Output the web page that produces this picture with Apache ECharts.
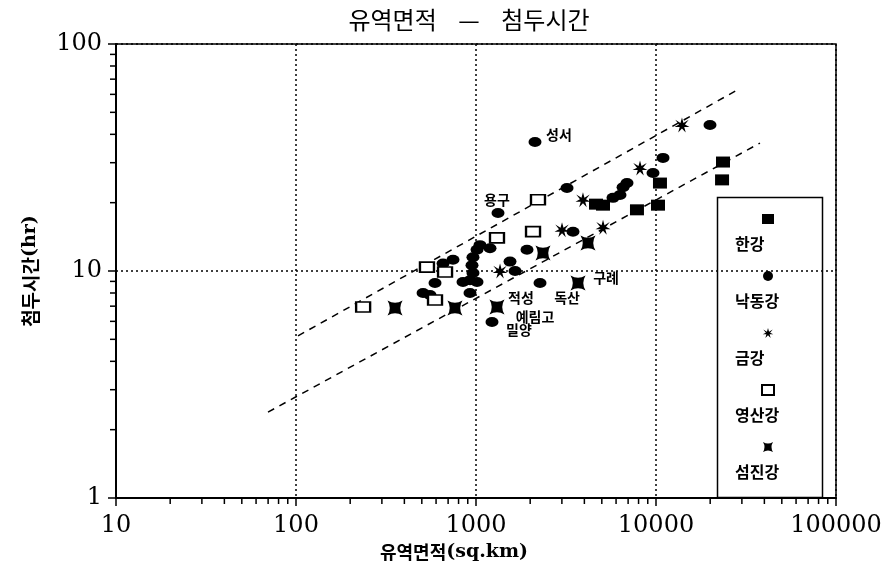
<!DOCTYPE html>
<html><head><meta charset="utf-8">
<script src="https://cdn.jsdelivr.net/npm/echarts@6/dist/echarts.min.js"></script>
<style>html,body{margin:0;padding:0;background:#fff}#c{width:884px;height:563px}</style>
</head><body><div id="c"></div>
<script>
const seriesNames = ['한강','낙동강','금강','영산강','섬진강'];
const xTickLabels = ['10','100','1000','10000','100000'];
const yTickLabels = ['1','10','100'];
// 한강
const hanArea = [23280, 23560, 10520, 10257, 7839, 5078, 4642];
const hanPeak = [25.2, 30.2, 24.4, 19.5, 18.6, 19.5, 19.7];
// 낙동강
const nakArea = [2127, 19950, 10940, 3204, 3458, 6561, 6310, 6902, 9624, 5770, 1325, 1920, 1545, 1648, 2268, 1227, 1052, 1013, 962, 950, 962, 926, 1013, 926, 745, 656, 592, 508, 555, 1196, 847];
const nakPeak = [37.0, 44.0, 31.5, 23.2, 14.9, 23.4, 21.6, 24.4, 27.0, 21.0, 18.0, 12.4, 11.0, 10.0, 8.85, 5.96, 13.0, 12.4, 11.5, 10.6, 9.8, 9.1, 8.95, 8.0, 11.2, 10.8, 8.85, 8.0, 7.84, 12.6, 8.95];
const nakLabels = ['성서','','','','','','','','','','용구','','','','독산','밀양','','','','','','','','예림고','','','','','','',''];
// 금강
const geumArea = [13940, 8150, 3929, 3005, 5078, 1360];
const geumPeak = [44.0, 28.4, 20.6, 15.2, 15.6, 10.0];
// 영산강
const yeongArea = [236, 534, 673, 592, 1308, 2074, 2210];
const yeongPeak = [6.94, 10.4, 9.9, 7.45, 14.0, 14.9, 20.6];
// 섬진강
const seomArea = [355, 764, 1308, 2356, 4190, 3689];
const seomPeak = [6.87, 6.87, 6.94, 12.0, 13.3, 8.85];
const seomLabels = ['','','적성','','','구례'];
// dashed envelope lines
const upperLineArea = [102.6, 29300];
const upperLinePeak = [5.18, 63.7];
const lowerLineArea = [69.9, 37800];
const lowerLinePeak = [2.39, 36.6];
// minor tick values
const xMinorTicks = [20,30,40,50,60,70,80,90,200,300,400,500,600,700,800,900,2000,3000,4000,5000,6000,7000,8000,9000,20000,30000,40000,50000,60000,70000,80000,90000];
const yMinorTicks = [2,3,4,5,6,7,8,9,20,30,40,50,60,70,80,90];

const labelOffsets = {
  '성서':[24,-7], '용구':[-1,-13], '독산':[27,15], '밀양':[27,8], '예림고':[65,24], '적성':[24,-9], '구례':[28,-5]
};

const asteriskPath = 'path://M0,-10 L2,-3 L9,-7 L4,-1 L10,2 L3,2 L5,9 L0,4 L-5,9 L-3,2 L-10,2 L-4,-1 L-9,-7 L-2,-3 Z';
const crossPath = 'path://M-10,-10 Q0,-4 10,-10 Q4,0 10,10 Q0,4 -10,10 Q-4,0 -10,-10 Z';
const KFONT = '"Noto Sans CJK KR", sans-serif';
const SFONT = '"DejaVu Serif", serif';

function pts(xs, ys, labels) {
  return xs.map((x, i) => {
    const item = { value: [x, ys[i]] };
    const lb = labels && labels[i];
    if (lb) {
      item.label = { show: true, formatter: lb, position: 'inside', offset: labelOffsets[lb],
        color: '#000', fontFamily: KFONT, fontWeight: 'bold', fontSize: 14 };
    }
    return item;
  });
}

function line(xs, ys) { return xs.map((x, i) => [x, ys[i]]); }

const chart = echarts.init(document.getElementById('c'), null, { renderer: 'canvas' });

const axisLabelStyle = { color: '#000', fontFamily: SFONT, fontSize: 24 };

const option = {
  backgroundColor: '#fff',
  animation: false,
  title: {
    text: '유역면적    —    첨두시간', left: 464, top: 3, textAlign: 'center',
    textStyle: { fontFamily: KFONT, fontSize: 24, fontWeight: 'normal', color: '#000' }
  },
  grid: { left: 116, right: 48, top: 44, bottom: 65, show: true, borderColor: '#000', borderWidth: 1.5,
    backgroundColor: 'transparent', containLabel: false, outerBoundsMode: 'none' },
  xAxis: {
    type: 'log', logBase: 10, min: 10, max: 100000,
    name: '유역면적{s|(sq.km)}', nameLocation: 'middle', nameGap: 43,
    nameTextStyle: { color: '#000', fontFamily: KFONT, fontSize: 18, fontWeight: 'bold', padding: [0, 44, 0, 0],
      rich: { s: { fontFamily: SFONT, fontSize: 19, fontWeight: 'bold', color: '#000' } } },
    axisLine: { lineStyle: { color: '#000', width: 2 } },
    axisTick: { show: true, inside: false, length: 8, lineStyle: { color: '#000', width: 1.5 } },
    axisLabel: Object.assign({ margin: 16, formatter: (v) => xTickLabels[Math.round(Math.log10(v)) - 1] || '' }, axisLabelStyle),
    splitLine: { show: true, lineStyle: { color: '#000', type: [2, 3], width: 1.5 } }
  },
  yAxis: {
    type: 'log', logBase: 10, min: 1, max: 100,
    name: '첨두시간{s|(hr)}', nameLocation: 'middle', nameGap: 76, nameRotate: 90,
    nameTextStyle: { color: '#000', fontFamily: KFONT, fontSize: 19, fontWeight: 'bold',
      rich: { s: { fontFamily: SFONT, fontSize: 19, fontWeight: 'bold', color: '#000' } } },
    axisLine: { lineStyle: { color: '#000', width: 2 } },
    axisTick: { show: true, inside: false, length: 8, lineStyle: { color: '#000', width: 1.5 } },
    axisLabel: Object.assign({ margin: 14, formatter: (v) => yTickLabels[Math.round(Math.log10(v))] || '' }, axisLabelStyle),
    splitLine: { show: true, lineStyle: { color: '#000', type: [2, 3], width: 1.5 } }
  },
  legend: {
    orient: 'vertical', left: 735, top: 206, padding: 0, itemGap: 11,
    itemWidth: 12, itemHeight: 10, selectedMode: false,
    formatter: (name) => '{e| }\n{n|' + name + '}',
    textStyle: { color: '#000', fontFamily: KFONT, fontSize: 16, fontWeight: 'bold', padding: [0, 0, 0, -44],
      rich: { e: { lineHeight: 50, fontSize: 10 }, n: { lineHeight: 16, fontSize: 16, fontWeight: 'bold', fontFamily: KFONT, color: '#000' } } },
    data: [
      { name: '한강', icon: 'rect' },
      { name: '낙동강', icon: 'circle' },
      { name: '금강', icon: asteriskPath },
      { name: '영산강', icon: 'rect', itemStyle: { color: '#fff', borderColor: '#000', borderWidth: 2 } },
      { name: '섬진강', icon: crossPath }
    ]
  },
  graphic: [{
    type: 'rect', left: 715, top: 195, shape: { width: 105, height: 300 },
    style: { fill: 'none', stroke: '#000', lineWidth: 1.5 }, silent: true, z: 10
  }],
  series: [
    { name: 'upper', type: 'line', data: line(upperLineArea, upperLinePeak), symbol: 'none', silent: true,
      lineStyle: { color: '#000', width: 1.5, type: [7, 6] }, z: 1 },
    { name: 'lower', type: 'line', data: line(lowerLineArea, lowerLinePeak), symbol: 'none', silent: true,
      lineStyle: { color: '#000', width: 1.5, type: [7, 6] }, z: 1 },
    { name: '한강', type: 'scatter', symbol: 'rect', symbolSize: [14, 11], data: pts(hanArea, hanPeak),
      itemStyle: { color: '#000', opacity: 1 }, z: 3 },
    { name: '낙동강', type: 'scatter', symbol: 'circle', symbolSize: [13, 10], data: pts(nakArea, nakPeak, nakLabels),
      itemStyle: { color: '#000', opacity: 1 }, z: 3 },
    { name: '금강', type: 'scatter', symbol: asteriskPath, symbolSize: 15, data: pts(geumArea, geumPeak),
      itemStyle: { color: '#000', opacity: 1 }, z: 3 },
    { name: '영산강', type: 'scatter', symbol: 'rect', symbolSize: [14, 10], data: pts(yeongArea, yeongPeak),
      itemStyle: { color: '#fff', borderColor: '#000', borderWidth: 2, opacity: 1 }, z: 3 },
    { name: '섬진강', type: 'scatter', symbol: crossPath, symbolSize: 15, data: pts(seomArea, seomPeak, seomLabels),
      itemStyle: { color: '#000', opacity: 1 }, z: 3 },
    { name: 'xminor', type: 'custom', silent: true, clip: false, data: xMinorTicks.map(v => [v, 1]),
      renderItem: (params, api) => {
        const p = api.coord([api.value(0), 1]);
        return { type: 'line', shape: { x1: p[0], y1: p[1], x2: p[0], y2: p[1] + 6 }, style: { stroke: '#000', lineWidth: 1.5 } };
      }, z: 2 },
    { name: 'yminor', type: 'custom', silent: true, clip: false, data: yMinorTicks.map(v => [10, v]),
      renderItem: (params, api) => {
        const p = api.coord([10, api.value(1)]);
        return { type: 'line', shape: { x1: p[0] - 6, y1: p[1], x2: p[0], y2: p[1] }, style: { stroke: '#000', lineWidth: 1.5 } };
      }, z: 2 }
  ]
};
chart.setOption(option);
</script>
</body></html>
